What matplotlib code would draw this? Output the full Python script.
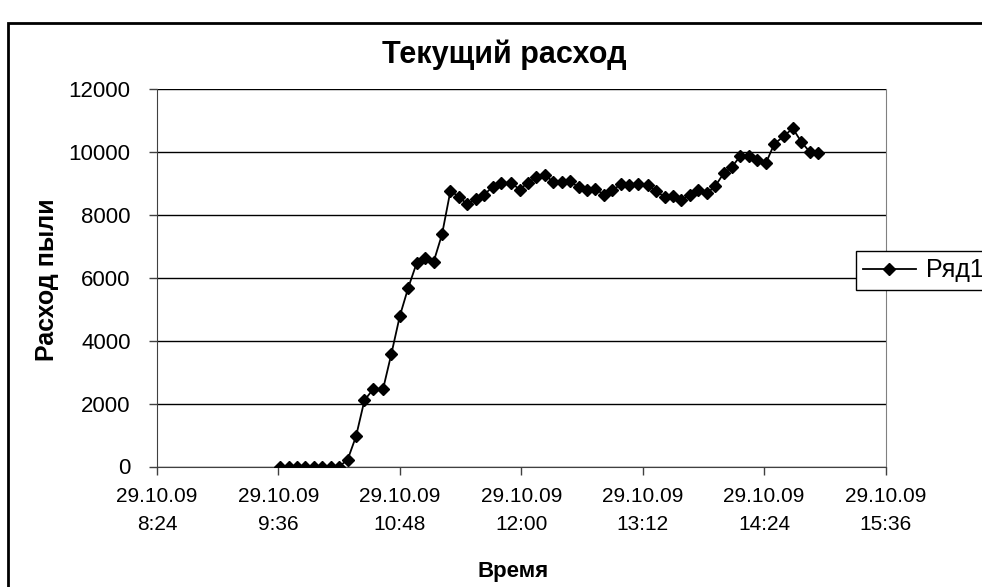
import datetime as dt
import matplotlib
matplotlib.use("Agg")
from matplotlib import pyplot as plt
from matplotlib.patches import Rectangle
import matplotlib.dates as mdates

plt.rcParams['font.family'] = ['Liberation Sans', 'DejaVu Sans']

day = "2009-10-29"
times = ["9:37", "9:42", "9:47", "9:52", "9:57", "10:02", "10:07", "10:12",
         "10:17", "10:22", "10:27", "10:32", "10:38", "10:43", "10:48", "10:53",
         "10:58", "11:03", "11:08", "11:13", "11:18", "11:23", "11:28", "11:33",
         "11:38", "11:43", "11:48", "11:54", "11:59", "12:04", "12:09", "12:14",
         "12:19", "12:24", "12:29", "12:34", "12:39", "12:44", "12:49", "12:54",
         "12:59", "13:04", "13:09", "13:15", "13:20", "13:25", "13:30", "13:35",
         "13:40", "13:45", "13:50", "13:55", "14:00", "14:05", "14:10", "14:15",
         "14:20", "14:25", "14:30", "14:36", "14:41", "14:46", "14:51", "14:56"]
flow = [0, 0, 0, 0, 0, 0, 0, 0, 210, 955, 2100, 2450, 2450, 3585, 4785, 5685,
        6470, 6640, 6500, 7375, 8760, 8580, 8330, 8505, 8640, 8890, 9020, 9020,
        8805, 9020, 9200, 9260, 9050, 9050, 9070, 8870, 8805, 8820, 8645, 8785,
        8965, 8940, 8965, 8950, 8755, 8570, 8590, 8485, 8625, 8785, 8680, 8910,
        9315, 9525, 9880, 9865, 9740, 9635, 10250, 10515, 10750, 10325, 10005, 9950]
tick_times = ["8:24", "9:36", "10:48", "12:00", "13:12", "14:24", "15:36"]
y_ticks = [0, 2000, 4000, 6000, 8000, 10000, 12000]

def to_dt(t):
    return dt.datetime.strptime(day + " " + t, "%Y-%m-%d %H:%M")

x = [to_dt(t) for t in times]
xt = [to_dt(t) for t in tick_times]

W, H = 982, 587
fig = plt.figure(figsize=(W / 100, H / 100), dpi=100)
fig.patch.set_facecolor('white')

# outer chart frame (cut off at right and bottom like the source)
fig.patches.append(Rectangle((8 / W, -0.1), 1.2, (H - 23) / H + 0.1,
                             transform=fig.transFigure, fill=False,
                             edgecolor='black', linewidth=2))

ax = fig.add_axes([157 / W, 1 - 466.5 / H, (885.5 - 157) / W, (466.5 - 89) / H])
ax.plot(x, flow, color='black', linewidth=1.3, marker='D', markersize=6.3,
        markerfacecolor='black', markeredgecolor='black', label='Ряд1', zorder=3)

ax.set_xlim(xt[0], xt[-1])
ax.set_ylim(0, 12000)
ax.set_yticks(y_ticks)
ax.set_yticklabels([str(v) for v in y_ticks])
ax.set_xticks([mdates.date2num(d) for d in xt])
ax.set_xticklabels([f"{d:%d.%m.%y}\n{d.hour}:{d:%M}" for d in xt], linespacing=1.6)

ax.grid(axis='y', color='black', linewidth=1)
ax.set_axisbelow(True)
ax.spines['right'].set_color('#808080')
ax.spines['top'].set_visible(False)
ax.spines['left'].set_color('#404040')
ax.spines['bottom'].set_color('#404040')
ax.tick_params(axis='both', direction='out', length=6, width=1, colors='#404040',
               labelcolor='black', labelsize=16)
ax.tick_params(axis='x', labelsize=15, pad=9)
ax.tick_params(axis='y', pad=13)

fig.text(504 / W, 1 - 63 / H, 'Текущий расход', ha='center', va='baseline',
         fontsize=22, fontweight='bold')
fig.text(47 / W, 1 - 280 / H, 'Расход пыли', ha='center', va='center',
         rotation=90, fontsize=18, fontweight='bold')
fig.text(513 / W, 1 - 571 / H, 'Время', ha='center', va='center',
         fontsize=16, fontweight='bold')

leg = ax.legend(loc='upper left', bbox_to_anchor=(855.7 / W, 1 - 251 / H),
                bbox_transform=fig.transFigure, fontsize=18, frameon=True,
                fancybox=False, borderpad=0.3, handlelength=2.1,
                handletextpad=0.4, borderaxespad=0)
leg.get_frame().set_edgecolor('black')
leg.get_frame().set_linewidth(1)
leg.get_frame().set_alpha(1)

fig.savefig('out.png', dpi=100, facecolor='white')
